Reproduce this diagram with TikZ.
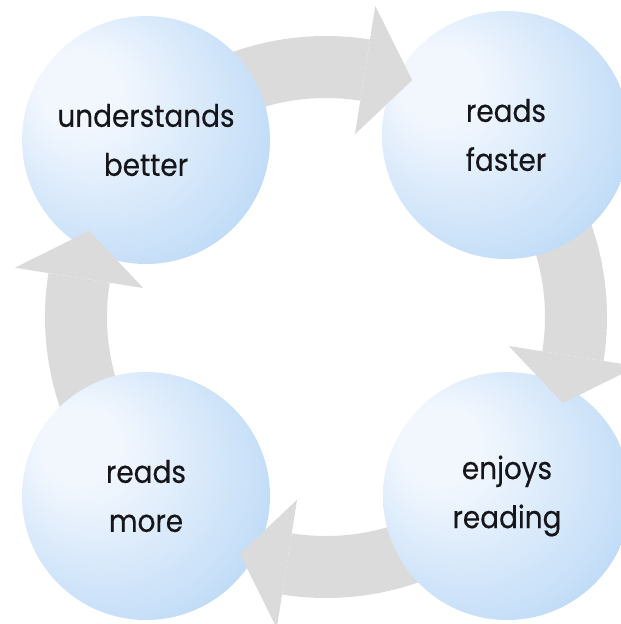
\documentclass[tikz,border=0pt]{standalone}
\usepackage{fontspec}
\setmainfont{Poppins}[FakeStretch=0.9, FakeBold=0.4]
\usetikzlibrary{calc}
\definecolor{arrowgray}{RGB}{219,219,219}
\definecolor{bubbleedge}{RGB}{138,190,240}
\definecolor{bubblemid}{RGB}{198,223,248}
\definecolor{bubblelight}{RGB}{242,247,254}
\definecolor{inktext}{RGB}{22,22,26}
\pgfdeclareradialshading{bubble}{\pgfpoint{-16bp}{12bp}}{color(0bp)=(bubblelight); color(8bp)=(bubblelight); color(30bp)=(bubblemid); color(50bp)=(bubbleedge)}

\begin{document}
\begin{tikzpicture}[x=1pt,y=-1pt,
    bubble/.style={circle, minimum size=248pt, inner sep=0pt, shading=bubble, align=center, text=inktext, font=\fontsize{31}{49}\selectfont},
    band/.style={fill=arrowgray}]
        \useasboundingbox (0,0) rectangle (621,624);
        \pgfmathsetmacro{\R}{250} % ring radius
        \pgfmathsetmacro{\w}{31} % half width of a band
        \pgfmathsetmacro{\h}{65} % half width of a head
        \coordinate (hub) at (326,317);
        % bands first, the bubbles hide their tails
        \foreach \ax in {-90,0,90,180}
            \fill[band] ($(hub)+(\ax-45:\R-\w)$) arc[start angle=\ax-45, end angle=\ax+9, radius=\R-\w] -- ($(hub)+(\ax+9:\R+\w)$) arc[start angle=\ax+9, end angle=\ax-45, radius=\R+\w] -- cycle;
        \node[bubble] (better) at (146,140) {understands\\better};
        \node[bubble] (faster) at (506,135) {reads\\faster};
        \node[bubble] (enjoys) at (507,496) {enjoys\\reading};
        \node[bubble] (more) at (146,496) {reads\\more};
        % heads on top
        \foreach \ax in {-90,0,90,180}
            \fill[band] ($(hub)+(\ax+9:\R-\h)$) -- ($(hub)+(\ax+9:\R+\h)$) -- ($(hub)+(\ax+20:\R+2)$) -- cycle;
    \end{tikzpicture}
\end{document}
